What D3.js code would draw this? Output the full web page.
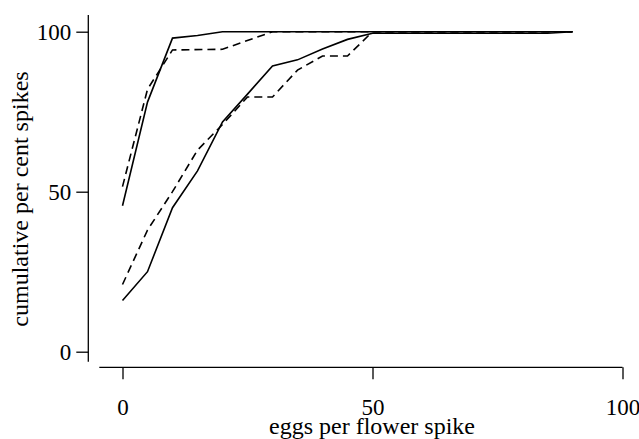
<!DOCTYPE html>
<html>
<head>
<meta charset="utf-8">
<script src="https://cdn.jsdelivr.net/npm/d3@7"></script>
<style>
  body { margin: 0; background: #fff; }
  svg text { font-family: "Liberation Serif", "Times New Roman", serif; fill: #000; }
</style>
</head>
<body>
<svg id="chart" width="639" height="439"></svg>
<script>
// eggs per flower spike (x) and cumulative per cent spikes (y)
const xTicks = [0, 50, 100];
const yTicks = [0, 50, 100];

const upperSolidX = [0, 5, 10, 15, 20, 30, 40, 50, 60, 70, 80, 90];
const upperSolidY = [45.6, 78, 98, 98.8, 100, 100, 100, 100, 100, 100, 100, 100];

const upperDashedX = [0, 5, 10, 20, 30, 40, 50, 60, 70, 80, 90];
const upperDashedY = [51.6, 82, 94.3, 94.5, 100, 100, 100, 100, 100, 100, 100];

const lowerSolidX = [0, 5, 10, 15, 20, 25, 30, 35, 40, 45, 50, 60, 70, 85, 90];
const lowerSolidY = [16, 25, 45, 56.5, 71.8, 80.5, 89.3, 91.2, 94.6, 97.6, 99.5, 99.5, 99.5, 99.5, 100];

const lowerDashedX = [0, 5, 10, 15, 20, 25, 30, 35, 40, 45, 50, 60, 70, 80, 90];
const lowerDashedY = [21, 38, 50, 63, 71, 79.6, 79.6, 88, 92.4, 92.4, 100, 100, 100, 100, 100];

const svg = d3.select("#chart");

const x = d3.scaleLinear().domain([0, 100]).range([122.5, 622.5]);
const y = d3.scaleLinear().domain([0, 100]).range([351.7, 31.7]);

// y axis
const yAxis = svg.append("g").attr("transform", "translate(88.3,0)")
  .call(d3.axisLeft(y).tickValues(yTicks).tickSize(12).tickPadding(5).tickSizeOuter(0));
yAxis.select(".domain").attr("d", `M0,15V361.7`);

// x axis
const xAxis = svg.append("g").attr("transform", "translate(0,367.3)")
  .call(d3.axisBottom(x).tickValues(xTicks).tickSize(12).tickPadding(19).tickSizeOuter(0));
xAxis.select(".domain").attr("d", `M99.3,0H622.5`);

svg.selectAll(".tick line").attr("stroke", "#000").attr("stroke-width", 1.3);
svg.selectAll(".domain").attr("stroke", "#000").attr("stroke-width", 1.3);
svg.selectAll(".tick text").style("font-size", "23px").attr("fill", "#000");

// axis titles
svg.append("text")
  .attr("transform", "translate(28,199) rotate(-90)")
  .attr("text-anchor", "middle")
  .style("font-size", "24px")
  .text("cumulative per cent spikes");

svg.append("text")
  .attr("x", 372).attr("y", 434)
  .attr("text-anchor", "middle")
  .style("font-size", "24px")
  .text("eggs per flower spike");

const line = d3.line().x(d => x(d[0])).y(d => y(d[1]));

const series = [
  { xs: lowerSolidX, ys: lowerSolidY, dash: null },
  { xs: lowerDashedX, ys: lowerDashedY, dash: "8,5" },
  { xs: upperSolidX, ys: upperSolidY, dash: null },
  { xs: upperDashedX, ys: upperDashedY, dash: "8,5" }
];

series.forEach(s => {
  svg.append("path")
    .datum(d3.zip(s.xs, s.ys))
    .attr("fill", "none")
    .attr("stroke", "#000")
    .attr("stroke-width", 1.6)
    .attr("stroke-dasharray", s.dash)
    .attr("d", line);
});
</script>
</body>
</html>
